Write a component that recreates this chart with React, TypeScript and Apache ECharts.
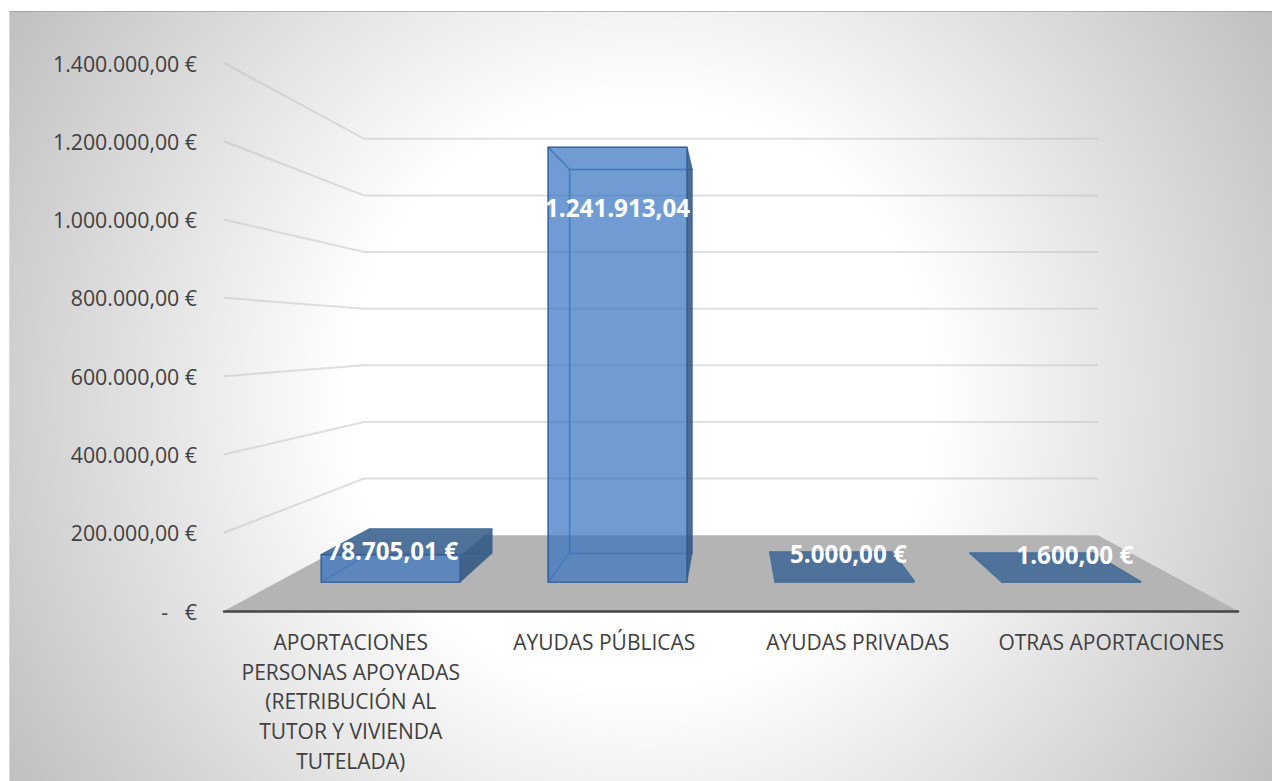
import React, { useEffect, useRef } from "react";
import * as echarts from "echarts";

const categories = [
  "APORTACIONES\nPERSONAS APOYADAS\n(RETRIBUCIÓN AL\nTUTOR Y VIVIENDA\nTUTELADA)",
  "AYUDAS PÚBLICAS",
  "AYUDAS PRIVADAS",
  "OTRAS APORTACIONES",
];
const values = [78705.01, 1241913.04, 5000, 1600];
const dataLabels = ["78.705,01 €", "1.241.913,04", "5.000,00 €", "1.600,00 €"];
const yTickLabels = [
  "-   €",
  "200.000,00 €",
  "400.000,00 €",
  "600.000,00 €",
  "800.000,00 €",
  "1.000.000,00 €",
  "1.200.000,00 €",
  "1.400.000,00 €",
];
const gridTicks = [200000, 400000, 600000, 800000, 1000000, 1200000, 1400000];

// Perspective of the 3-D box: points recede toward a centre as depth goes 0 -> 1
const CX = 731;
const CY = 337;
const SHRINK = 0.2765;
const D_FRONT = 0.38;
const D_BACK = 0.76;
const BAR_RATIO = 0.153 / 0.25;
const labelOffsets = [
  [2, -32],
  [0, -375],
  [4, -29],
  [3.5, -28],
];

const project = (x: number, y: number, d: number) => {
  const s = 1 - SHRINK * d;
  return [CX + (x - CX) * s, CY + (y - CY) * s];
};

const renderFloor = (params: any) => {
  const { x, y, width, height } = params.coordSys;
  const b = y + height;
  return {
    type: "polygon",
    shape: {
      points: [
        [x, b],
        [x + width, b],
        project(x + width, b, 1),
        project(x, b, 1),
      ],
    },
    style: { fill: "#b4b4b4" },
  };
};

const renderWall = (params: any, api: any) => {
  const { x, width } = params.coordSys;
  const y = api.coord([0, api.value(1)])[1];
  return {
    type: "polyline",
    shape: { points: [[x, y], project(x, y, 1), project(x + width, y, 1)] },
    style: { stroke: "rgba(190,190,190,0.48)", lineWidth: 2, fill: "none" },
  };
};

const renderBar = (params: any, api: any) => {
  const i = api.value(0);
  const v = api.value(1);
  const [cx, top] = api.coord([i, v]);
  const base = api.coord([i, 0])[1];
  const w = api.size([1, 0])[0] * BAR_RATIO;
  const l = cx - w / 2;
  const r = cx + w / 2;
  const f = (x: number, y: number) => project(x, y, D_FRONT);
  const k = (x: number, y: number) => project(x, y, D_BACK);
  const seenFromBelow = f(l, top)[1] < k(l, top)[1];
  const flat = base - top < 10;
  const edge = flat ? "rgba(72,110,150,0.8)" : "rgba(45,90,150,0.8)";
  const inner = "rgba(45,95,160,0.45)";
  const poly = (points: number[][], fill: string, stroke: string, lineWidth = 1.5) => ({
    type: "polygon",
    shape: { points },
    style: { fill, stroke, lineWidth, lineJoin: "round" },
  });
  const center = f(cx, base);
  return {
    type: "group",
    children: [
      poly([k(l, top), k(r, top), k(r, base), k(l, base)], "rgba(50,115,198,0.05)", inner),
      poly([f(r, top), k(r, top), k(r, base), f(r, base)], "rgba(45,85,130,0.85)", "rgba(60,100,150,0.6)", 1),
      poly([f(l, top), k(l, top), k(l, base), f(l, base)], "rgba(50,115,198,0.05)", inner),
      poly(
        [f(l, top), f(r, top), k(r, top), k(l, top)],
        seenFromBelow ? "rgba(50,115,198,0.05)" : "rgba(74,112,152,0.97)",
        seenFromBelow ? inner : "rgba(74,112,152,0.9)",
      ),
      poly(
        [f(l, top), f(r, top), f(r, base), f(l, base)],
        flat ? "rgba(74,112,152,0.97)" : "rgba(50,112,192,0.68)",
        edge,
      ),
      {
        type: "text",
        x: center[0] + labelOffsets[i][0],
        y: center[1] + labelOffsets[i][1],
        style: {
          text: dataLabels[i],
          fill: "#ffffff",
          font: '700 24.2px "Open Sans", sans-serif',
          align: "center",
          verticalAlign: "middle",
        },
      },
    ],
  };
};

export default function App() {
  const ref = useRef<HTMLDivElement>(null);
  useEffect(() => {
    if (!ref.current) return;
    const chart = echarts.init(ref.current, undefined, { renderer: "svg" });
    chart.setOption({
      animation: false,
      backgroundColor: "#ffffff",
      textStyle: { fontFamily: '"Open Sans", sans-serif' },
      graphic: [
        {
          // square so that the bounding-box gradient stays circular; overflow is cut by the canvas
          type: "rect",
          silent: true,
          z: -10,
          shape: { x: 9, y: -236, width: 1263, height: 1263 },
          style: {
            fill: new echarts.graphic.RadialGradient(0.5, 0.5, 0.583, [
              { offset: 0, color: "#ffffff" },
              { offset: 0.4, color: "#ffffff" },
              { offset: 1, color: "#c0c0c0" },
            ]),
          },
        },
        {
          type: "rect",
          silent: true,
          z: -9.5,
          shape: { x: 0, y: 0, width: 1272, height: 11 },
          style: { fill: "#ffffff" },
        },
        {
          type: "line",
          silent: true,
          z: -9,
          shape: { x1: 9, y1: 11.5, x2: 1272, y2: 11.5 },
          style: { stroke: "rgba(140,140,140,0.55)", lineWidth: 1 },
        },
        {
          type: "line",
          silent: true,
          z: -9,
          shape: { x1: 9.5, y1: 11, x2: 9.5, y2: 781 },
          style: { stroke: "rgba(225,225,225,0.7)", lineWidth: 1 },
        },
      ],
      grid: { left: 224, right: 34, top: 63, bottom: 170, containLabel: false },
      xAxis: {
        type: "category",
        data: categories,
        z: 5,
        axisTick: { show: false },
        axisLine: { lineStyle: { color: "#454545", width: 2.5 } },
        axisLabel: {
          interval: 0,
          color: "#404040",
          fontSize: 21,
          lineHeight: 29.7,
          margin: 16,
          align: "center",
          verticalAlign: "top",
        },
        splitLine: { show: false },
      },
      yAxis: {
        type: "value",
        min: 0,
        max: 1400000,
        interval: 200000,
        axisLine: { show: false },
        axisTick: { show: false },
        splitLine: { show: false },
        axisLabel: {
          color: "#404040",
          fontSize: 21.3,
          margin: 27,
          align: "right",
          formatter: (_: number, idx: number) => yTickLabels[idx],
        },
      },
      series: [
        {
          type: "custom",
          name: "floor",
          coordinateSystem: "cartesian2d",
          renderItem: renderFloor,
          data: [[0, 0]],
          z: 1,
          silent: true,
          clip: false,
        },
        {
          type: "custom",
          name: "walls",
          coordinateSystem: "cartesian2d",
          renderItem: renderWall,
          data: gridTicks.map((t) => [0, t]),
          encode: { x: 0, y: 1 },
          z: 2,
          silent: true,
          clip: false,
        },
        {
          type: "custom",
          name: "bars",
          coordinateSystem: "cartesian2d",
          renderItem: renderBar,
          data: values.map((v, i) => [i, v]),
          encode: { x: 0, y: 1 },
          z: 3,
          silent: true,
          clip: false,
        },
      ],
    });
    return () => chart.dispose();
  }, []);
  return (
    <div
      ref={ref}
      style={{ position: "fixed", left: 0, top: 0, width: 1272, height: 781 }}
    />
  );
}
